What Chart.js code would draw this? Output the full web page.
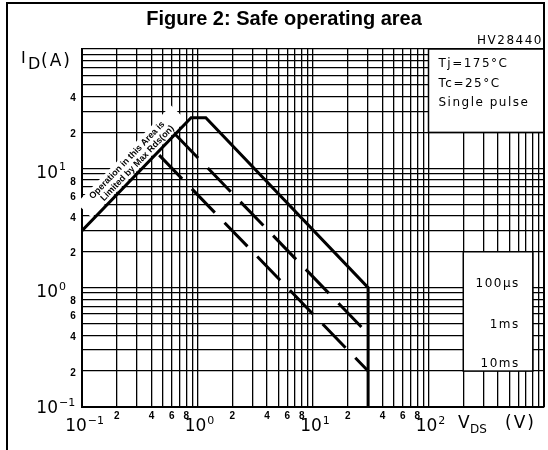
<!DOCTYPE html>
<html>
<head>
<meta charset="utf-8">
<script src="https://cdn.jsdelivr.net/npm/chart.js@4.4.1/dist/chart.umd.min.js"></script>
<style>
html, body { margin: 0; padding: 0; background: #fff; }
#wrap { width: 548px; height: 450px; }
</style>
</head>
<body>
<div id="wrap"><canvas id="soa" width="548" height="450"></canvas></div>
<script>
// grid lines (1..9 per decade)
const xGrid = [0.1, 0.2, 0.3, 0.4, 0.5, 0.6, 0.7, 0.8, 0.9,
  1, 2, 3, 4, 5, 6, 7, 8, 9,
  10, 20, 30, 40, 50, 60, 70, 80, 90,
  100, 200, 300, 400, 500, 600, 700, 800, 900, 1000];
const yGrid = [0.1, 0.2, 0.3, 0.4, 0.5, 0.6, 0.7, 0.8, 0.9,
  1, 2, 3, 4, 5, 6, 7, 8, 9,
  10, 20, 30, 40, 50, 60, 70, 80, 90, 100];

// tick labels
const xDecades = [0.1, 1, 10, 100];
const xDecadeExp = ['\u22121', '0', '1', '2'];
const xMinorTicks = [0.2, 0.4, 0.6, 0.8, 2, 4, 6, 8, 20, 40, 60, 80];
const xMinorLabels = ['2', '4', '6', '8', '2', '4', '6', '8', '2', '4', '6', '8'];
const yDecades = [0.1, 1, 10];
const yDecadeExp = ['\u22121', '0', '1'];
const yMinorTicks = [0.2, 0.4, 0.6, 0.8, 2, 4, 6, 8, 20, 40];
const yMinorLabels = ['2', '4', '6', '8', '2', '4', '6', '8', '2', '4'];

// SOA boundaries (VDS in V, ID in A)
const solidV = [0.1, 0.88, 1.18, 30, 30];
const solidI = [3.0, 26.5, 26.5, 1.0, 0.1];
const ms1V = [0.64, 30];
const ms1I = [19.3, 0.41];
const ms10V = [0.466, 30];
const ms10I = [12.9, 0.2];

const pulseLabels = ['100\u00b5s', '1ms', '10ms'];
const conditions = ['Tj=175\u00b0C', 'Tc=25\u00b0C', 'Single pulse'];
const noteLines = ['Operation in this Area is', 'Limited by Max Rds(on)'];
const noteV = 0.32;

function toPoints(vs, is) {
    return vs.map((v, i) => ({ x: v, y: is[i] }));
}

const decor = {
    id: 'decor',
    beforeDatasetsDraw(chart) {
        const ctx = chart.ctx;
        const xs = chart.scales.x, ys = chart.scales.y;
        ctx.save();
        // conditions box (100..1000 V, 20..100 A)
        let l = xs.getPixelForValue(100), r = xs.getPixelForValue(1000);
        let t = ys.getPixelForValue(100), b = ys.getPixelForValue(20);
        ctx.fillStyle = '#fff';
        ctx.fillRect(l, t, r - l, b - t);
        ctx.strokeStyle = '#000';
        ctx.lineWidth = 1.5;
        ctx.strokeRect(l, t, r - l, b - t);
        // pulse label box (200..800 V, 0.2..2 A)
        l = xs.getPixelForValue(200); r = xs.getPixelForValue(800);
        t = ys.getPixelForValue(2); b = ys.getPixelForValue(0.2);
        ctx.fillRect(l, t, r - l, b - t);
        ctx.strokeRect(l, t, r - l, b - t);

        // band behind the Rds(on) note
        const p0x = xs.getPixelForValue(solidV[0]), p0y = ys.getPixelForValue(solidI[0]);
        const p1x = xs.getPixelForValue(solidV[1]), p1y = ys.getPixelForValue(solidI[1]);
        const ang = Math.atan2(p1y - p0y, p1x - p0x);
        const ax = xs.getPixelForValue(noteV);
        const ay = p0y + (p1y - p0y) * (ax - p0x) / (p1x - p0x);
        ctx.translate(ax, ay);
        ctx.rotate(ang);
        ctx.fillStyle = '#fff';
        ctx.fillRect(-68, -23, 136, 21);
        ctx.fillStyle = '#000';
        ctx.font = 'bold 9px "Liberation Sans"';
        ctx.textAlign = 'center';
        ctx.textBaseline = 'middle';
        ctx.fillText(noteLines[0], -2, -16.5);
        ctx.fillText(noteLines[1], 3, -7);
        ctx.restore();
    },
    afterDraw(chart) {
        const ctx = chart.ctx;
        const xs = chart.scales.x, ys = chart.scales.y;
        const area = chart.chartArea;
        ctx.save();
        ctx.fillStyle = '#000';
        ctx.strokeStyle = '#000';

        // outer frame
        ctx.lineWidth = 2;
        ctx.beginPath();
        ctx.moveTo(7, 450);
        ctx.lineTo(7, 3);
        ctx.lineTo(544, 3);
        ctx.lineTo(544, area.bottom);
        ctx.stroke();

        // title
        ctx.font = 'bold 20px "Liberation Sans"';
        ctx.textAlign = 'center';
        ctx.textBaseline = 'alphabetic';
        ctx.fillText('Figure 2: Safe operating area', 284, 25);

        ctx.font = '12px "DejaVu Sans"';
        ctx.letterSpacing = '1.5px';
        ctx.textAlign = 'right';
        ctx.fillText('HV28440', 543, 44);

        // conditions
        ctx.textAlign = 'left';
        const cl = xs.getPixelForValue(100) + 10;
        ctx.fillText(conditions[0], cl, 67);
        ctx.fillText(conditions[1], cl, 87);
        ctx.fillText(conditions[2], cl, 106);

        // pulse labels
        ctx.textAlign = 'right';
        const pr = xs.getPixelForValue(800) - 13;
        const pt = ys.getPixelForValue(2);
        const pb = ys.getPixelForValue(0.2);
        ctx.fillText(pulseLabels[0], pr, pt + 35);
        ctx.fillText(pulseLabels[1], pr, pt + 76);
        ctx.fillText(pulseLabels[2], pr, pb - 4);

        // axis titles
        ctx.letterSpacing = '0px';
        ctx.textAlign = 'left';
        ctx.font = '16px "DejaVu Sans"';
        ctx.fillText('I', 21, 63);
        ctx.fillText('D', 28, 69);
        ctx.letterSpacing = '2px';
        ctx.font = '17px "DejaVu Sans"';
        ctx.fillText('(A)', 41, 66);
        ctx.letterSpacing = '0px';
        ctx.font = '17px "DejaVu Sans"';
        ctx.fillText('V', 458, 428);
        ctx.font = '12px "DejaVu Sans"';
        ctx.fillText('DS', 470, 433);
        ctx.letterSpacing = '2px';
        ctx.font = '17px "DejaVu Sans"';
        ctx.fillText('(V)', 505, 428);
        ctx.letterSpacing = '0px';

        // minor tick digits
        ctx.font = 'bold 10px "Liberation Sans"';
        ctx.textBaseline = 'middle';
        ctx.textAlign = 'center';
        xMinorTicks.forEach((v, i) => {
            ctx.fillText(xMinorLabels[i], xs.getPixelForValue(v), area.bottom + 9);
        });
        yMinorTicks.forEach((v, i) => {
            ctx.fillText(yMinorLabels[i], area.left - 9, ys.getPixelForValue(v) + 2);
        });

        // decade labels 10^n
        xDecades.forEach((v, i) => {
            let cx = xs.getPixelForValue(v) - 2;
            if (i === 0) cx -= 4;
            ctx.font = '17px "DejaVu Sans"';
            ctx.textAlign = 'center';
            ctx.fillText('10', cx, area.bottom + 20);
            const w = ctx.measureText('10').width;
            ctx.font = '11px "DejaVu Sans"';
            ctx.textAlign = 'left';
            ctx.fillText(xDecadeExp[i], cx + w / 2 + 1, area.bottom + 14);
        });
        yDecades.forEach((v, i) => {
            const cy = Math.min(ys.getPixelForValue(v) + 5, area.bottom + 2);
            ctx.font = '17px "DejaVu Sans"';
            ctx.textAlign = 'right';
            ctx.fillText('10', 58, cy);
            ctx.font = '11px "DejaVu Sans"';
            ctx.textAlign = 'left';
            ctx.fillText(yDecadeExp[i], 59, cy - 6);
        });
        ctx.restore();
    }
};

const lineStyle = {
    showLine: true,
    borderColor: '#000',
    borderWidth: 3,
    pointRadius: 0,
    fill: false,
    tension: 0
};

const chart = new Chart(document.getElementById('soa'), {
    type: 'scatter',
    data: {
        datasets: [
            Object.assign({ label: pulseLabels[0], data: toPoints(solidV, solidI) }, lineStyle),
            Object.assign({ label: pulseLabels[1], data: toPoints(ms1V, ms1I), borderDash: [33, 14] }, lineStyle),
            Object.assign({ label: pulseLabels[2], data: toPoints(ms10V, ms10I), borderDash: [33, 14] }, lineStyle)
        ]
    },
    options: {
        responsive: false,
        animation: false,
        layout: { padding: { top: 49, right: 4, left: 0, bottom: 0 } },
        plugins: {
            legend: { display: false },
            tooltip: { enabled: false }
        },
        scales: {
            x: {
                type: 'logarithmic',
                min: 0.1,
                max: 1000,
                afterBuildTicks: s => { s.ticks = xGrid.map(v => ({ value: v })); },
                afterFit: s => { s.height = 43; },
                ticks: { display: false },
                grid: { color: '#000', lineWidth: 1.3, drawTicks: false },
                border: { color: '#000', width: 2 }
            },
            y: {
                type: 'logarithmic',
                min: 0.1,
                max: 100,
                afterBuildTicks: s => { s.ticks = yGrid.map(v => ({ value: v })); },
                afterFit: s => { s.width = 82; },
                ticks: { display: false },
                grid: { color: '#000', lineWidth: 1.3, drawTicks: false },
                border: { color: '#000', width: 2 }
            }
        }
    },
    plugins: [decor]
});
</script>
</body>
</html>
